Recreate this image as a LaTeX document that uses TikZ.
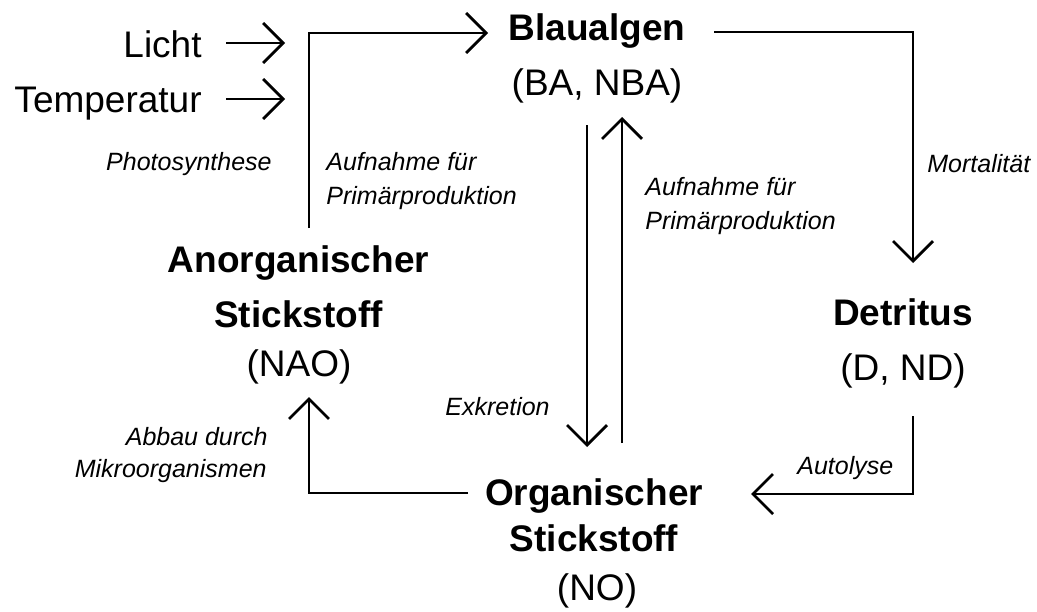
\documentclass[tikz,border=0pt]{standalone}
\usepackage{fontspec}
\setmainfont{Liberation Sans}
\usetikzlibrary{arrows.meta}
\begin{document}
\begin{tikzpicture}[x=0.5pt,y=-0.5pt,
  big/.style={font=\fontsize{18.5}{20}\selectfont, inner sep=0pt},
  bigb/.style={font=\fontsize{18.5}{20}\selectfont\bfseries, inner sep=0pt},
  lab/.style={font=\fontsize{12.5}{14}\selectfont\itshape, inner sep=0pt},
  conn/.style={line width=1.4pt},
  arr/.style={conn, -{Straight Barb[length=10pt,width=20pt]}}]
\useasboundingbox (0,0) rectangle (1037,611);
% main nodes
\node[bigb, anchor=base] (ba) at (597,40) {Blaualgen};
\node[big, anchor=base] (bacode) at (597,95) {(BA, NBA)};
\node[bigb, anchor=base] (det) at (903,325) {Detritus};
\node[big, anchor=base] (detcode) at (903,380) {(D, ND)};
\node[bigb, anchor=base] (ano1) at (298.5,272) {Anorganischer};
\node[bigb, anchor=base] (ano2) at (298.5,327) {Stickstoff};
\node[big, anchor=base] (anocode) at (299,376) {(NAO)};
\node[bigb, anchor=base] (org1) at (594,505) {Organischer};
\node[bigb, anchor=base] (org2) at (594,551) {Stickstoff};
\node[big, anchor=base] (orgcode) at (597,600) {(NO)};
\node[big, anchor=base east] (licht) at (202,57) {Licht};
\node[big, anchor=base east] (temp) at (202,112) {Temperatur};
% labels
\node[lab, anchor=base east] (photo) at (272,170) {Photosynthese};
\node[lab, anchor=base west] (aufl1) at (326,170) {Aufnahme für};
\node[lab, anchor=base west] (aufl2) at (326,204) {Primärproduktion};
\node[lab, anchor=base west] (aufr1) at (645,195) {Aufnahme für};
\node[lab, anchor=base west] (aufr2) at (645,229) {Primärproduktion};
\node[lab, anchor=base west] (mort) at (927,172) {Mortalität};
\node[lab, anchor=base west] (exk) at (445,415) {Exkretion};
\node[lab, anchor=base east] (abbau1) at (268,445) {Abbau durch};
\node[lab, anchor=base east] (abbau2) at (267,477) {Mikroorganismen};
\node[lab, anchor=base west] (autol) at (797,474) {Autolyse};
% connector points
\coordinate (lichtS) at (226,43);
\coordinate (lichtE) at (285,43);
\coordinate (tempS) at (226,99);
\coordinate (tempE) at (285,99);
\coordinate (photoS) at (309,228);
\coordinate (photoC) at (309,33);
\coordinate (photoE) at (488,33);
\coordinate (mortS) at (714,32);
\coordinate (mortC) at (913,32);
\coordinate (mortE) at (913,263);
\coordinate (exS) at (587,125);
\coordinate (exE) at (587,447);
\coordinate (upS) at (622,443);
\coordinate (upE) at (622,117);
\coordinate (autS) at (913,416);
\coordinate (autC) at (913,494);
\coordinate (autE) at (751,494);
\coordinate (abS) at (468,493);
\coordinate (abC) at (309,493);
\coordinate (abE) at (309,397);
% connectors
\draw[arr] (lichtS) -- (lichtE);
\draw[arr] (tempS) -- (tempE);
\draw[arr] (photoS) -- (photoC) -- (photoE);
\draw[arr] (mortS) -- (mortC) -- (mortE);
\draw[arr] (exS) -- (exE);
\draw[arr] (upS) -- (upE);
\draw[arr] (autS) -- (autC) -- (autE);
\draw[arr] (abS) -- (abC) -- (abE);
\end{tikzpicture}
\end{document}
